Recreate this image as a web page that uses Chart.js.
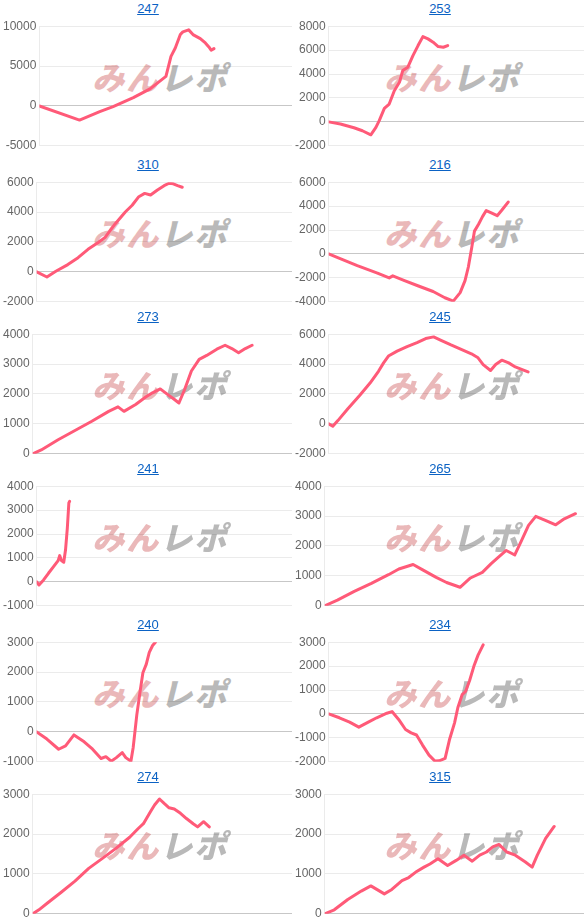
<!DOCTYPE html>
<html>
<head>
<meta charset="utf-8">
<script src="https://cdn.jsdelivr.net/npm/chart.js@4"></script>
<style>
  body { margin: 0; background: #fff; width: 584px; height: 924px; position: relative; overflow: hidden;
         font-family: Arial, "Liberation Sans", sans-serif; }
  .cell { position: absolute; width: 292px; height: 154px; }
  .title { position: absolute; left: 2px; top: 0; width: 292px; height: 18px; line-height: 18px;
           text-align: center; font-size: 13px; }
  .title a { color: #0b62c4; text-decoration: underline; }
  .mark { position: absolute; left: 90px; top: 53px; white-space: nowrap;
          font-family: "Noto Sans CJK JP", sans-serif; font-weight: 900; font-size: 32px; letter-spacing: 2px;
          transform: skewX(-14deg); transform-origin: left bottom; }
  .mark .a { color: #eab8b9; }
  .mark .b { color: #b9b9b9; }
  canvas { position: absolute; left: 0; top: 16px; }
</style>
</head>
<body>
<script>
const machines = ['247', '253', '310', '216', '273', '245', '241', '265', '240', '234', '274', '315'];
const yMin  = [-5000, -2000, -2000, -4000, 0, -2000, -1000, 0, -1000, -2000, 0, 0];
const yMax  = [10000, 8000, 6000, 6000, 4000, 6000, 4000, 4000, 3000, 3000, 3000, 3000];
const yStep = [5000, 2000, 2000, 2000, 1000, 2000, 1000, 1000, 1000, 1000, 1000, 1000];

// x = progress through the day (0-100), y = coin difference
const x247 = [0, 15.9, 23.9, 29.2, 37.2, 43.8, 50.1, 51.1, 52.1, 53.8, 55.8, 56.8, 59.1, 60.8, 63.7, 65.7, 67.1, 68.0, 69.1];
const y247 = [0, -1770, -720, -90, 1050, 2140, 3700, 4960, 6220, 7270, 8950, 9290, 9540, 8950, 8450, 7900, 7400, 6980, 7190];

const x253 = [0, 4.6, 9.9, 13.2, 16.5, 18.5, 19.8, 21.8, 23.7, 25.7, 27.7, 29.0, 31.0, 33.0, 35.0, 36.9, 38.9, 40.9, 42.9, 44.9, 46.6];
const y253 = [0, -180, -490, -740, -1080, -460, 100, 1130, 1490, 2610, 3310, 4290, 4570, 5540, 6380, 7130, 6940, 6660, 6300, 6240, 6380];

const x310 = [0, 4.0, 7.5, 12.2, 16.2, 20.1, 24.1, 26.8, 30.7, 34.7, 37.4, 40.0, 42.3, 44.6, 47.3, 49.9, 51.9, 53.5, 55.2, 57.0];
const y310 = [0, -340, 40, 490, 950, 1510, 1970, 2310, 3210, 4010, 4460, 5030, 5250, 5140, 5480, 5770, 5930, 5890, 5770, 5660];

const x216 = [0, 3.3, 11.2, 19.1, 23.7, 25.1, 29.7, 34.9, 40.9, 45.5, 48.8, 51.5, 53.4, 54.7, 56.1, 57.1, 58.7, 60.3, 61.7, 63.7, 66.0, 67.7, 70.3];
const y216 = [0, -290, -970, -1600, -2000, -1830, -2230, -2660, -3140, -3660, -3940, -3230, -2230, -1090, 630, 1910, 2490, 3140, 3630, 3430, 3200, 3630, 4340];

const x273 = [0, 3.3, 9.8, 16.3, 22.8, 29.3, 32.9, 35.2, 39.7, 43.6, 46.2, 49.2, 52.1, 54.3, 56.4, 58.6, 61.2, 64.2, 67.1, 71.0, 74.2, 76.8, 79.4, 82.0, 84.6];
const y273 = [0, 130, 470, 780, 1090, 1420, 1570, 1420, 1650, 1900, 2040, 2170, 1980, 1840, 1700, 2150, 2770, 3160, 3290, 3500, 3630, 3520, 3380, 3520, 3630];

const x245 = [0, 1.6, 3.6, 7.5, 12.2, 16.2, 19.5, 21.5, 23.4, 26.8, 30.7, 34.6, 38.0, 41.1, 44.0, 47.9, 51.9, 55.9, 58.5, 60.5, 63.4, 65.4, 67.8, 70.5, 73.1, 75.8, 78.1];
const y245 = [0, -160, 220, 1010, 1920, 2730, 3520, 4080, 4540, 4870, 5170, 5440, 5710, 5820, 5590, 5280, 4990, 4690, 4420, 3970, 3570, 3970, 4260, 4080, 3810, 3630, 3480];

const x241 = [0, 0.9, 2.7, 4.6, 6.6, 8.4, 9.0, 9.7, 10.6, 11.3, 12.0, 12.6, 12.9];
const y241 = [0, -130, 80, 360, 640, 890, 1100, 890, 820, 1340, 2250, 3300, 3370];

const x265 = [0, 4.9, 11.4, 18.0, 24.6, 28.6, 34.1, 37.8, 43.0, 47.0, 52.2, 56.2, 60.8, 64.1, 66.7, 70.0, 71.3, 73.3, 75.9, 78.6, 81.4, 85.1, 89.1, 92.4, 96.7];
const y265 = [0, 190, 480, 750, 1040, 1230, 1380, 1200, 950, 780, 620, 930, 1120, 1400, 1600, 1850, 1790, 1700, 2180, 2690, 2990, 2860, 2710, 2910, 3080];

const x240 = [0, 4.0, 8.6, 11.3, 14.6, 18.6, 21.9, 25.2, 27.1, 29.2, 31.2, 33.5, 34.9, 36.9, 37.8, 39.2, 40.5, 41.6, 42.9, 44.1, 45.4, 46.5];
const y240 = [0, -240, -580, -470, -100, -330, -580, -890, -830, -980, -860, -690, -860, -980, -520, 560, 1350, 1980, 2260, 2660, 2890, 3000];

const x234 = [0, 4.2, 8.2, 11.8, 15.5, 18.8, 22.8, 24.8, 27.4, 30.1, 32.3, 34.4, 36.7, 39.3, 41.6, 43.3, 45.6, 47.3, 49.3, 50.6, 52.3, 53.6, 55.2, 57.0, 58.5, 60.5];
const y234 = [0, -160, -340, -550, -340, -160, 30, 100, -230, -650, -790, -880, -1290, -1720, -1970, -1960, -1860, -1080, -370, 270, 810, 940, 1400, 2040, 2460, 2890];

const x274 = [0, 2.4, 5.7, 11.0, 16.3, 21.6, 26.9, 32.1, 37.4, 40.7, 42.7, 45.4, 47.0, 48.9, 50.7, 52.6, 54.6, 57.0, 59.3, 61.9, 63.6, 65.9, 68.1];
const y274 = [0, 100, 270, 540, 820, 1140, 1390, 1640, 1920, 2140, 2260, 2560, 2730, 2880, 2770, 2660, 2630, 2520, 2390, 2260, 2180, 2310, 2180];

const x315 = [0, 3.7, 8.9, 14.1, 17.8, 23.0, 25.9, 29.8, 32.4, 35.0, 38.3, 40.6, 43.7, 47.4, 50.7, 53.7, 56.9, 59.8, 62.4, 64.8, 67.2, 70.2, 73.5, 77.4, 80.0, 82.0, 85.2, 88.5];
const y315 = [0, 100, 360, 570, 700, 500, 610, 830, 910, 1040, 1170, 1250, 1380, 1210, 1340, 1470, 1320, 1470, 1550, 1680, 1740, 1550, 1470, 1300, 1170, 1470, 1890, 2190];

const seriesX = [x247, x253, x310, x216, x273, x245, x241, x265, x240, x234, x274, x315];
const seriesY = [y247, y253, y310, y216, y273, y245, y241, y265, y240, y234, y274, y315];

const rowTop = [0, 156, 308, 460, 616, 768];

Chart.defaults.font.family = 'Arial, "Liberation Sans", sans-serif';
Chart.defaults.font.size = 12;
Chart.defaults.color = '#666';

machines.forEach((name, i) => {
  const cell = document.createElement('div');
  cell.className = 'cell';
  cell.style.left = (i % 2) * 292 + 'px';
  cell.style.top = rowTop[Math.floor(i / 2)] + 'px';
  cell.innerHTML = `<div class="title"><a href="#">${name}</a></div>` +
    `<div class="mark"><span class="a">みん</span><span class="b">レポ</span></div>`;
  const canvas = document.createElement('canvas');
  canvas.width = 292;
  canvas.height = 140;
  cell.appendChild(canvas);
  document.body.appendChild(cell);

  const xs = seriesX[i], ys = seriesY[i];
  new Chart(canvas, {
    type: 'line',
    data: {
      datasets: [{
        data: xs.map((x, k) => ({ x: x, y: ys[k] })),
        borderColor: 'rgb(255, 90, 120)',
        borderWidth: 3,
        borderJoinStyle: 'round',
        borderCapStyle: 'round',
        pointRadius: 0,
        fill: false,
        tension: 0
      }]
    },
    options: {
      responsive: false,
      animation: false,
      events: [],
      plugins: { legend: { display: false }, tooltip: { enabled: false } },
      scales: {
        x: { type: 'linear', min: 0, max: 100, display: false },
        y: {
          min: yMin[i],
          max: yMax[i],
          ticks: { stepSize: yStep[i], padding: 3, callback: v => String(v) },
          grid: {
            drawTicks: false,
            color: c => (c.tick && c.tick.value === 0) ? 'rgba(0,0,0,0.22)' : 'rgba(0,0,0,0.08)'
          },
          border: { color: 'rgba(0,0,0,0.08)' }
        }
      }
    }
  });
});
</script>
</body>
</html>
